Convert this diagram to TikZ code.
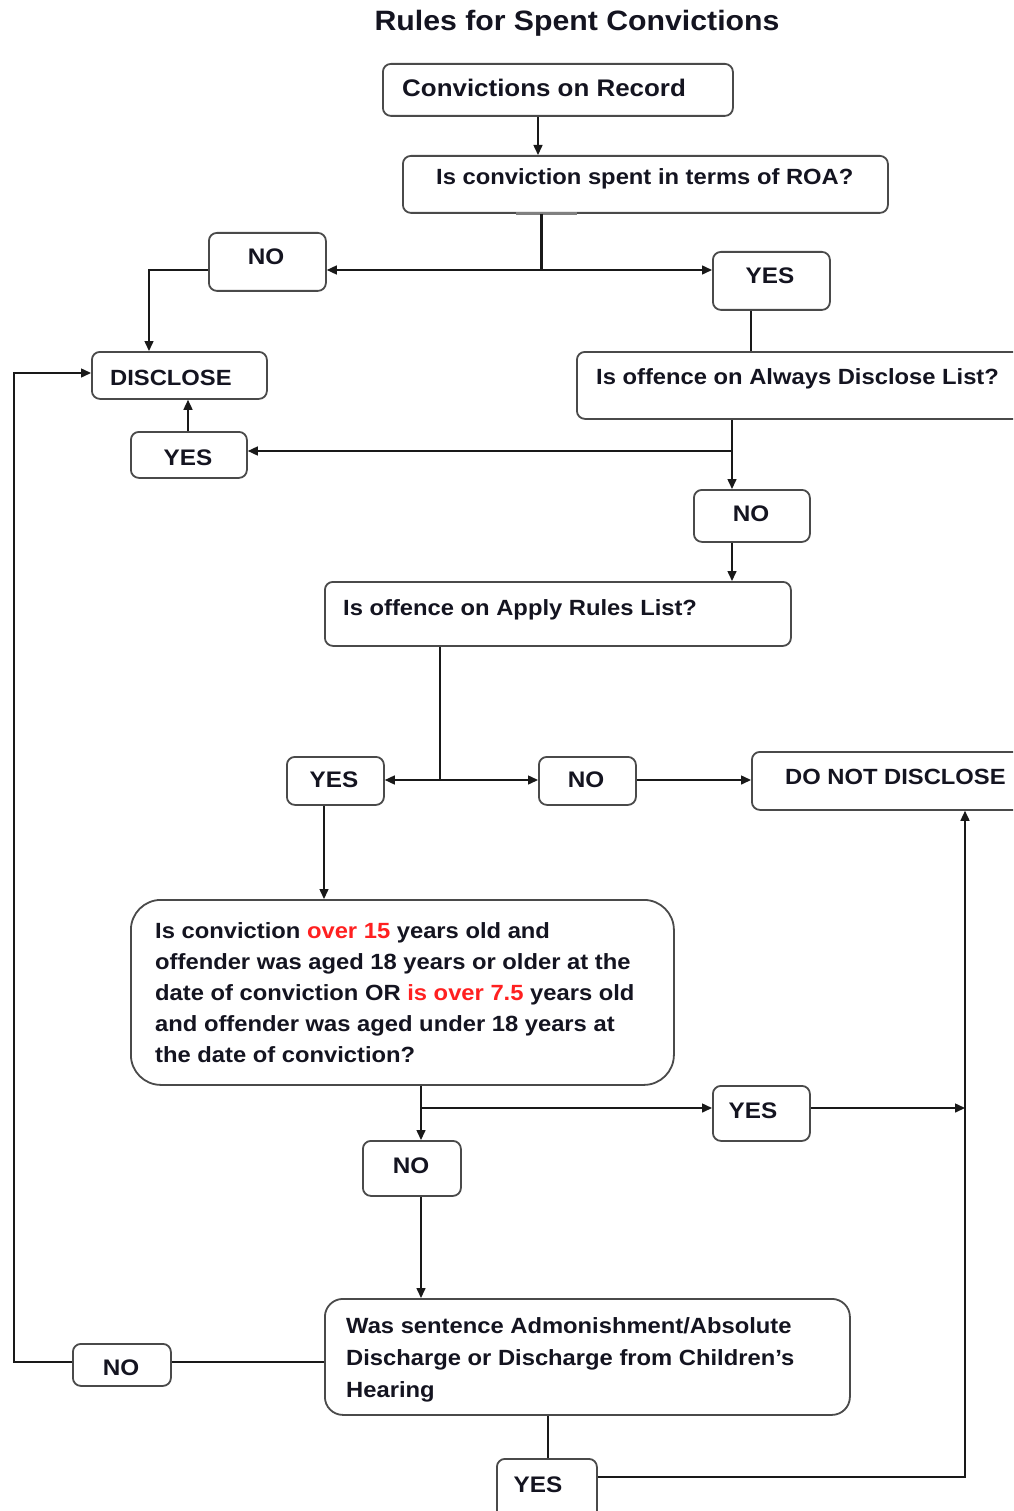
\documentclass[tikz,border=0pt]{standalone}
\usepackage{fontspec}
\setmainfont{Liberation Sans}[FakeStretch=1.08]
\usetikzlibrary{arrows.meta,calc}
\definecolor{ink}{HTML}{141420}
\definecolor{edge}{HTML}{4A4A4A}
\definecolor{hl}{HTML}{FF2020}
\tikzset{
  box/.style={draw=edge, line width=1.8pt, rounded corners=8pt, anchor=north west, inner sep=0pt},
  lbl/.style={text=ink, font=\bfseries\fontsize{22}{31}\selectfont, inner sep=0pt, anchor=base west},
  yn/.style={text=ink, font=\bfseries\fontsize{22.5}{31}\selectfont, inner sep=0pt, anchor=base},
  conn/.style={draw=black!90, line width=1.5pt},
  arr/.style={conn, -{Triangle[length=10pt,width=9pt]}},
}
\begin{document}
\begin{tikzpicture}[x=1pt,y=-1pt]
\useasboundingbox (0,0) rectangle (1013,1511);
\clip (0,0) rectangle (1013,1511);
\fill[white] (0,0) rectangle (1013,1511);

% boxes
\node[box, minimum width=350pt, minimum height=52pt] (cor) at (382,63) {};
\node[box, minimum width=485pt, minimum height=57pt] (roa) at (402,155) {};
\node[box, minimum width=117pt, minimum height=58pt] (no1) at (208,232) {};
\node[box, minimum width=117pt, minimum height=58pt] (yes1) at (712,251) {};
\node[box, minimum width=175pt, minimum height=47pt] (disc) at (91,351) {};
\node[box, minimum width=460pt, minimum height=67pt] (ad) at (576,351) {};
\node[box, minimum width=116pt, minimum height=46pt] (yesd) at (130,431) {};
\node[box, minimum width=116pt, minimum height=52pt] (no2) at (693,489) {};
\node[box, minimum width=466pt, minimum height=64pt] (arl) at (324,581) {};
\node[box, minimum width=97pt, minimum height=48pt] (yes2) at (286,756) {};
\node[box, minimum width=97pt, minimum height=48pt] (no3) at (538,756) {};
\node[box, minimum width=290pt, minimum height=58pt] (dnd) at (751,751) {};
\node[box, minimum width=543pt, minimum height=185pt, rounded corners=30pt] (big) at (130,899) {};
\node[box, minimum width=97pt, minimum height=55pt] (yes3) at (712,1085) {};
\node[box, minimum width=98pt, minimum height=55pt] (no4) at (362,1140) {};
\node[box, minimum width=525pt, minimum height=116pt, rounded corners=18pt] (sent) at (324,1298) {};
\node[box, minimum width=98pt, minimum height=42pt] (no5) at (72,1343) {};
\node[box, minimum width=100pt, minimum height=70pt] (yes4) at (496,1458) {};

% texts
\node[text=ink, font=\bfseries\fontsize{28}{31}\selectfont, inner sep=0pt, anchor=base] (title) at (577,31) {Rules for Spent Convictions};
\node[lbl, font=\bfseries\fontsize{24}{31}\selectfont] (tcor) at (402,97) {Convictions on Record};
\node[lbl] (troa) at (436,185) {Is conviction spent in terms of ROA?};
\node[yn] (tno1) at (266,265) {NO};
\node[yn] (tyes1) at (770,284) {YES};
\node[lbl] (tdisc) at (110,385) {DISCLOSE};
\node[lbl] (tad) at (596,384) {Is offence on Always Disclose List?};
\node[yn] (tyesd) at (188,465) {YES};
\node[yn] (tno2) at (751,521) {NO};
\node[lbl] (tarl) at (343,615) {Is offence on Apply Rules List?};
\node[yn] (tyes2) at (334,787) {YES};
\node[yn] (tno3) at (586,787) {NO};
\node[lbl] (tdnd) at (785,784) {DO NOT DISCLOSE};
\node[lbl, align=left, anchor=north west] (tbig) at (155,922) {Is conviction \textcolor{hl}{over 15} years old and\\
offender was aged 18 years or older at the\\
date of conviction OR \textcolor{hl}{is over 7.5} years old\\
and offender was aged under 18 years at\\
the date of conviction?};
\node[yn] (tyes3) at (753,1118) {YES};
\node[yn] (tno4) at (411,1173) {NO};
\node[lbl, align=left, anchor=north west, font=\bfseries\fontsize{22}{32}\selectfont] (tsent) at (346,1317) {Was sentence Admonishment/Absolute\\
Discharge or Discharge from Children's\\
Hearing};
\node[yn] (tno5) at (121,1375) {NO};
\node[yn] (tyes4) at (538,1492) {YES};

% junction coordinates
\coordinate (j1) at (541,270);
\coordinate (c538) at (538,0);
\coordinate (c149) at (149,0);
\coordinate (c751) at (751,0);
\coordinate (j2) at (732,451);
\coordinate (c188) at (188,0);
\coordinate (j3) at (440,780);
\coordinate (c324) at (324,0);
\coordinate (j4) at (421,1108);
\coordinate (c965) at (965,0);
\coordinate (j5) at (0,1362);
\coordinate (c14) at (14,0);
\coordinate (jd) at (0,373);
\coordinate (c548) at (548,0);
\coordinate (j6) at (0,1477);

% connectors
\draw[arr] (cor.south -| c538) -- (roa.north -| c538);
\draw[draw=gray, line width=3pt] ($(roa.south -| j1)+(-25,0)$) -- ($(roa.south -| j1)+(36,0)$);
\draw[conn, line width=3pt] (roa.south -| j1) -- (j1);
\draw[arr] (j1) -- (no1.east |- j1);
\draw[arr] (j1) -- (yes1.west |- j1);
\draw[arr] (no1.west |- j1) -- (c149 |- j1) -- (disc.north -| c149);
\draw[conn] (yes1.south -| c751) -- (ad.north -| c751);
\draw[arr] (ad.south -| j2) -- (no2.north -| j2);
\draw[arr] (j2) -- (yesd.east |- j2);
\draw[arr] (yesd.north -| c188) -- (disc.south -| c188);
\draw[arr] (no2.south -| j2) -- (arl.north -| j2);
\draw[conn] (arl.south -| j3) -- (j3);
\draw[arr] (j3) -- (yes2.east |- j3);
\draw[arr] (j3) -- (no3.west |- j3);
\draw[arr] (no3.east |- j3) -- (dnd.west |- j3);
\draw[arr] (yes2.south -| c324) -- (big.north -| c324);
\draw[conn] (big.south -| j4) -- (j4);
\draw[arr] (j4) -- (yes3.west |- j4);
\draw[arr] (j4) -- (no4.north -| j4);
\draw[arr] (yes3.east |- j4) -- (c965 |- j4);
\draw[arr] (no4.south -| j4) -- (sent.north -| j4);
\draw[conn] (sent.west |- j5) -- (no5.east |- j5);
\draw[arr] (no5.west |- j5) -- (c14 |- j5) -- (c14 |- jd) -- (disc.west |- jd);
\draw[conn] (sent.south -| c548) -- (yes4.north -| c548);
\draw[arr] (yes4.east |- j6) -- (c965 |- j6) -- (dnd.south -| c965);
\end{tikzpicture}
\end{document}
